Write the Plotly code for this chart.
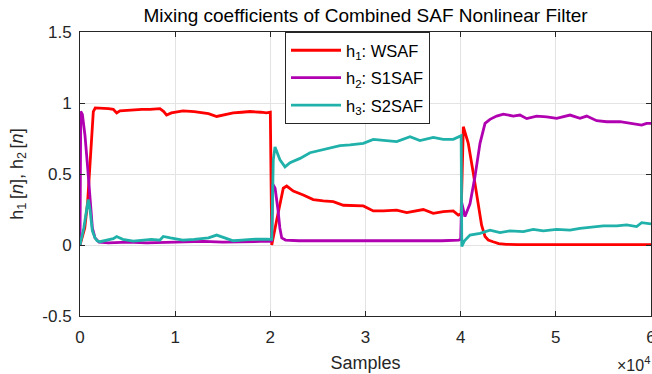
import plotly.graph_objects as go

# ---- data ----
h1_x = [0, 300, 500, 800, 1050, 1250, 1400, 1600, 2100, 3000, 3500, 3850, 4200, 5000, 5600,
        6500, 7350, 8400, 8800, 9100, 9600, 10830, 12000, 12600, 13500, 14360, 15000, 16100,
        17000, 17860, 19000, 19600, 20000, 20150, 20670, 21360, 21720, 22410, 23460, 24510,
        25560, 26620, 27670, 28720, 29770, 30820, 31870, 33280, 34330, 36070, 37120, 38170,
        39220, 39750, 40050, 40280, 40800, 41330, 41850, 42200, 42560, 42900, 43400, 44000,
        44800, 46000, 50000, 55000, 60000]
h1_y = [0.0, 0.08, 0.12, 0.30, 0.58, 0.82, 0.94, 0.965, 0.965, 0.96, 0.955, 0.93, 0.945, 0.95, 0.95,
        0.955, 0.955, 0.96, 0.94, 0.915, 0.93, 0.945, 0.94, 0.935, 0.925, 0.905, 0.915, 0.93,
        0.935, 0.94, 0.935, 0.93, 0.935, 0.0, 0.176, 0.40, 0.415, 0.38, 0.352, 0.32,
        0.31, 0.305, 0.28, 0.275, 0.275, 0.24, 0.24, 0.246, 0.228, 0.25, 0.223, 0.235,
        0.24, 0.21, 0.22, 0.833, 0.716, 0.505, 0.27, 0.14, 0.06, 0.035, 0.023, 0.01,
        0.005, 0.003, 0.003, 0.003, 0.003]

h2_x = [0, 80, 250, 525, 800, 1050, 1300, 1576, 2000, 3000, 5000, 7000, 9000, 11000, 13000,
        15000, 17000, 19000, 20000, 20150, 20250, 20500, 20800, 21000, 21200, 21600, 23000,
        26000, 29000, 32000, 35000, 38000, 39800, 40000, 40100, 40450, 40980, 41500, 42030,
        42560, 43080, 43780, 44480, 45530, 46230, 46940, 47990, 49040, 50090, 51490, 52540,
        53240, 54290, 55340, 56740, 58140, 59020, 59540, 60000]
h2_y = [0.0, 0.94, 0.92, 0.77, 0.55, 0.30, 0.12, 0.05, 0.02, 0.015, 0.02, 0.015, 0.02, 0.02, 0.025,
        0.02, 0.025, 0.025, 0.025, 0.03, 0.43, 0.40, 0.25, 0.12, 0.05, 0.035, 0.03,
        0.03, 0.025, 0.03, 0.03, 0.03, 0.035, 0.04, 0.30, 0.20, 0.29, 0.48, 0.716,
        0.857, 0.885, 0.908, 0.922, 0.908, 0.915, 0.89, 0.908, 0.903, 0.892, 0.915, 0.892,
        0.908, 0.875, 0.868, 0.868, 0.857, 0.845, 0.857, 0.857]

h3_x = [0, 400, 700, 875, 1050, 1300, 1576, 1800, 2100, 2600, 3000, 3500, 3850, 4500, 5600,
        6500, 7500, 8400, 8750, 9500, 10800, 12000, 13500, 14360, 15000, 16100, 17000, 18000,
        19600, 20000, 20150, 20310, 20490, 21010, 21540, 22070, 23120, 24170, 25220, 26270,
        27320, 28370, 29770, 30820, 31870, 33280, 34680, 35720, 37120, 38170, 39220, 39930,
        40050, 40120, 40400, 40980, 42030, 43080, 44130, 45180, 46580, 47630, 48680, 50090,
        51490, 52540, 53940, 54990, 56390, 57440, 58490, 59020, 60000]
h3_y = [0.0, 0.12, 0.25, 0.32, 0.25, 0.10, 0.05, 0.03, 0.023, 0.03, 0.04, 0.045, 0.06, 0.04, 0.028,
        0.035, 0.04, 0.035, 0.06, 0.05, 0.035, 0.04, 0.05, 0.07, 0.055, 0.03, 0.035, 0.04,
        0.042, 0.04, 0.04, 0.60, 0.69, 0.60, 0.55, 0.58, 0.61, 0.65, 0.665, 0.68,
        0.70, 0.705, 0.716, 0.744, 0.735, 0.728, 0.763, 0.735, 0.758, 0.744, 0.744, 0.768,
        0.77, -0.01, 0.03, 0.07, 0.082, 0.105, 0.087, 0.10, 0.094, 0.11, 0.099, 0.11,
        0.105, 0.117, 0.124, 0.134, 0.134, 0.141, 0.13, 0.157, 0.148]

x_tickvals = [0, 10000, 20000, 30000, 40000, 50000, 60000]
x_ticktext = ["0", "1", "2", "3", "4", "5", "6"]
y_tickvals = [-0.5, 0, 0.5, 1, 1.5]
y_ticktext = ["-0.5", "0", "0.5", "1", "1.5"]

names = ["h<sub>1</sub>: WSAF", "h<sub>2</sub>: S1SAF", "h<sub>3</sub>: S2SAF"]
colors = ["#FF0000", "#B000B0", "#20B2AA"]

FONT = "Liberation Sans, Arial, Helvetica, sans-serif"
AX = "#262626"

fig = go.Figure()
for i, (xs, ys) in enumerate([(h1_x, h1_y), (h2_x, h2_y), (h3_x, h3_y)]):
    fig.add_trace(go.Scatter(x=xs, y=ys, mode="lines", name=names[i],
                             legendgroup=f"g{i}",
                             line=dict(color=colors[i], width=2.8)))

axis_common = dict(showline=True, linecolor=AX, linewidth=1, mirror="ticks",
                   ticks="inside", ticklen=5, tickcolor=AX, tickwidth=1,
                   showgrid=True, gridcolor="#e3e3e3", gridwidth=1,
                   zeroline=False, automargin=False, ticklabeloverflow="allow",
                   tickfont=dict(family=FONT, size=17, color=AX))

fig.update_layout(
    width=652, height=374,
    margin=dict(l=80, r=1, t=32, b=58),
    paper_bgcolor="white", plot_bgcolor="white",
    font=dict(family=FONT, color=AX),
    title=dict(text="Mixing coefficients of Combined SAF Nonlinear Filter",
               x=(80 + 651) / 2 / 652, xanchor="center", y=1 - 15 / 374, yanchor="middle",
               font=dict(family=FONT, size=19, color="#000000")),
    xaxis=dict(range=[0, 60000], tickmode="array", tickvals=x_tickvals, ticktext=x_ticktext,
               ticklabelstandoff=6,
               title=dict(text="Samples", font=dict(family=FONT, size=18, color=AX), standoff=9),
               **axis_common),
    yaxis=dict(range=[-0.5, 1.5], tickmode="array", tickvals=y_tickvals, ticktext=y_ticktext,
               ticklabelstandoff=4,
               title=dict(text="h<sub>1</sub>\u2009[<i>n</i>], h<sub>2</sub>\u2009[<i>n</i>]",
                          font=dict(family=FONT, size=18, color=AX), standoff=14),
               **axis_common),
    legend=dict(x=(285 - 80) / 571, y=1, xanchor="left", yanchor="top",
                bgcolor="white", bordercolor=AX, borderwidth=1,
                traceorder="grouped", tracegroupgap=3, itemwidth=50,
                font=dict(family=FONT, size=16.5, color="#000000")),
    showlegend=True,
)

fig.add_annotation(text="×10<sup>4</sup>", xref="paper", yref="paper",
                   x=1, y=0, xanchor="right", yanchor="top", yshift=-36, xshift=1,
                   showarrow=False, font=dict(family=FONT, size=16, color=AX))

fig.write_html("out.html", config={"displayModeBar": False},
               post_script="document.body.style.margin='0';document.body.style.overflow='hidden';")
